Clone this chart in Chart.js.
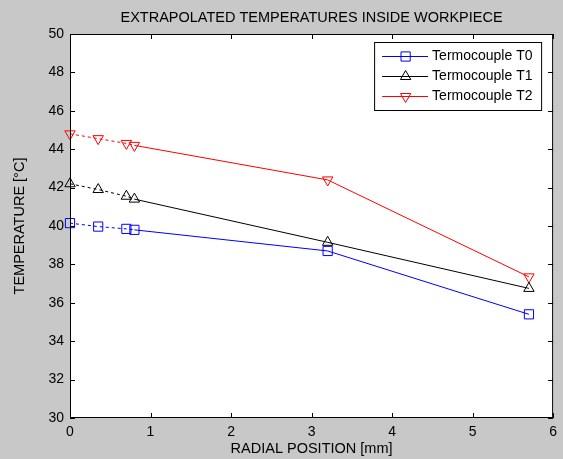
<!DOCTYPE html>
<html>
<head>
<meta charset="utf-8">
<script src="https://cdn.jsdelivr.net/npm/chart.js@4/dist/chart.umd.min.js"></script>
<style>
  html, body { margin: 0; padding: 0; background: #c8c8c8; }
  canvas { display: block; }
</style>
</head>
<body>
<canvas id="myChart" width="563" height="459"></canvas>
<script>
const radialPos = [0, 0.35, 0.7, 0.8, 3.2, 5.7];
const tempT0 = [40.15, 39.97, 39.85, 39.8, 38.7, 35.4];
const tempT1 = [42.2, 41.9, 41.55, 41.4, 39.15, 36.75];
const tempT2 = [44.8, 44.55, 44.3, 44.2, 42.4, 37.35];
const seriesNames = ['Termocouple T0', 'Termocouple T1', 'Termocouple T2'];

// first four points are extrapolated -> dashed
const EXTRAP_LAST = 3;
const FONT = "'Liberation Sans', Arial, sans-serif";

function toPoints(ys) {
  return radialPos.map((x, i) => ({ x: x, y: ys[i] }));
}

function makeSet(label, ys, color, style, rot) {
  return {
    label: label,
    data: toPoints(ys),
    borderColor: color,
    borderWidth: 1,
    pointStyle: style,
    pointRotation: rot,
    pointRadius: style === 'rect' ? 6.5 : 6,
    pointBorderColor: color,
    pointBackgroundColor: 'rgba(0,0,0,0)',
    pointBorderWidth: 1,
    tension: 0,
    clip: false,
    segment: {
      borderDash: ctx => ctx.p1DataIndex <= EXTRAP_LAST ? [3, 3] : undefined
    }
  };
}

// white plot box, black frame, inward ticks on all sides, title and legend
const matlabAxes = {
  id: 'matlabAxes',
  beforeDraw(chart) {
    const { ctx, chartArea: a } = chart;
    ctx.save();
    ctx.fillStyle = '#ffffff';
    ctx.fillRect(a.left, a.top, a.right - a.left, a.bottom - a.top);
    ctx.restore();
  },
  afterDatasetsDraw(chart) {
    const { ctx, chartArea: a, scales } = chart;
    const tl = 5;
    ctx.save();
    ctx.strokeStyle = '#000';
    ctx.lineWidth = 1;
    ctx.beginPath();
    scales.x.ticks.forEach(t => {
      const px = Math.round(scales.x.getPixelForValue(t.value)) + 0.5;
      ctx.moveTo(px, a.bottom); ctx.lineTo(px, a.bottom - tl);
      ctx.moveTo(px, a.top); ctx.lineTo(px, a.top + tl);
    });
    scales.y.ticks.forEach(t => {
      const py = Math.round(scales.y.getPixelForValue(t.value)) + 0.5;
      ctx.moveTo(a.left, py); ctx.lineTo(a.left + tl, py);
      ctx.moveTo(a.right, py); ctx.lineTo(a.right - tl, py);
    });
    ctx.stroke();
    ctx.strokeRect(a.left + 0.5, a.top + 0.5, a.right - a.left - 1, a.bottom - a.top - 1);

    // title
    ctx.fillStyle = '#000';
    ctx.font = '14.5px ' + FONT;
    ctx.textAlign = 'center';
    ctx.textBaseline = 'middle';
    ctx.fillText('EXTRAPOLATED TEMPERATURES INSIDE WORKPIECE', (a.left + a.right) / 2, 18);

    // legend box, upper right
    const bw = 167, bh = 68;
    const bx = a.right - 12 - bw, by = a.top + 8;
    ctx.fillStyle = '#fff';
    ctx.fillRect(bx, by, bw, bh);
    ctx.strokeRect(bx + 0.5, by + 0.5, bw, bh);
    ctx.font = '14px ' + FONT;
    chart.data.datasets.forEach((ds, i) => {
      const y = by + 14 + i * 20 + 0.5;
      ctx.strokeStyle = ds.borderColor;
      ctx.beginPath();
      ctx.moveTo(bx + 8, y); ctx.lineTo(bx + 54, y);
      ctx.stroke();
      ctx.fillStyle = 'rgba(0,0,0,0)';
      Chart.helpers.drawPoint(ctx, {
        pointStyle: ds.pointStyle,
        rotation: ds.pointRotation,
        radius: ds.pointRadius,
        borderWidth: 1
      }, bx + 31.5, y);
      ctx.fillStyle = '#000';
      ctx.textAlign = 'left';
      ctx.fillText(ds.label, bx + 58, y);
    });
    ctx.restore();
  }
};

const data = {
  datasets: [
    makeSet(seriesNames[0], tempT0, '#0000ff', 'rect', 0),
    makeSet(seriesNames[1], tempT1, '#000000', 'triangle', 0),
    makeSet(seriesNames[2], tempT2, '#ff0000', 'triangle', 180)
  ]
};

const config = {
  type: 'line',
  data: data,
  plugins: [matlabAxes],
  options: {
    responsive: false,
    animation: false,
    layout: { padding: { top: 34, right: 7, left: 0, bottom: 0 } },
    plugins: {
      legend: { display: false },
      title: { display: false },
      tooltip: { enabled: false }
    },
    scales: {
      x: {
        type: 'linear',
        min: 0,
        max: 6,
        afterFit: s => { s.height = 41; },
        ticks: { stepSize: 1, color: '#000', padding: 6, font: { family: FONT, size: 14 } },
        grid: { display: false, drawTicks: false },
        border: { display: false },
        title: {
          display: true,
          text: 'RADIAL POSITION [mm]',
          color: '#000',
          font: { family: FONT, size: 14.5 },
          padding: { top: 0, bottom: 1 }
        }
      },
      y: {
        min: 30,
        max: 50,
        afterFit: s => { s.width = 70; },
        ticks: { stepSize: 2, color: '#000', padding: 6, font: { family: FONT, size: 14 } },
        grid: { display: false, drawTicks: false },
        border: { display: false },
        title: {
          display: true,
          text: 'TEMPERATURE [°C]',
          color: '#000',
          font: { family: FONT, size: 14.5 },
          padding: { top: 11, bottom: 0 }
        }
      }
    }
  }
};

new Chart(document.getElementById('myChart'), config);
</script>
</body>
</html>
